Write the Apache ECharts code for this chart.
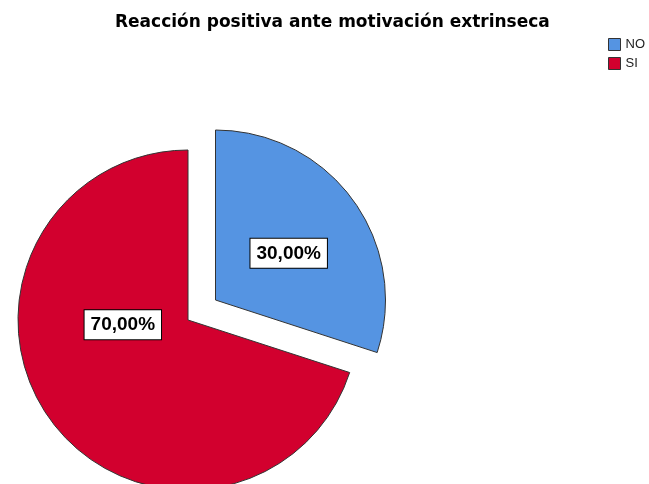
<!DOCTYPE html>
<html>
<head>
<meta charset="utf-8">
<script src="https://cdn.jsdelivr.net/npm/echarts@6/dist/echarts.min.js"></script>
<style>
  html, body { margin: 0; padding: 0; background: #fff; }
  #chart { width: 649px; height: 484px; }
</style>
</head>
<body>
<div id="chart"></div>
<script>
const titleText = 'Reacción positiva ante motivación extrinseca'
const categories = ['NO', 'SI']
const percents = [30, 70]
const colors = ['#5594e2', '#d2002e']

const chart = echarts.init(document.getElementById('chart'))

// SPSS places the labels slightly differently from the ECharts default
const labelOffsets = [[2, 5], [6, -47]]

const pieData = categories.map((name, i) => ({
  name: name,
  value: percents[i],
  selected: i === 0,
  itemStyle: { color: colors[i] },
  label: { offset: labelOffsets[i] },
  select: { label: { offset: labelOffsets[i] } }
}))

chart.setOption({
  animation: false,
  title: {
    text: titleText,
    left: 110,
    top: 9,
    textStyle: { fontFamily: 'DejaVu Sans', fontSize: 17, fontWeight: 'bold', color: '#000' }
  },
  legend: {
    orient: 'vertical',
    left: 603,
    top: 33,
    itemWidth: 12,
    itemHeight: 12,
    itemGap: 6,
    icon: 'rect',
    data: categories,
    itemStyle: { borderColor: '#333', borderWidth: 1 },
    textStyle: { fontFamily: 'Liberation Sans', fontSize: 13, color: '#222' }
  },
  series: [
    {
      type: 'pie',
      center: [188, 320],
      radius: 170,
      startAngle: 90,
      selectedMode: 'single',
      selectedOffset: 34,
      data: pieData,
      itemStyle: { borderColor: '#333', borderWidth: 1 },
      emphasis: { disabled: true },
      label: {
        show: true,
        position: 'inside',
        formatter: (p) => p.value.toFixed(2).replace('.', ',') + '%',
        fontFamily: 'Liberation Sans',
        fontSize: 19,
        fontWeight: 'bold',
        lineHeight: 21,
        color: '#000',
        backgroundColor: '#fff',
        borderColor: '#000',
        borderWidth: 1,
        padding: [4, 6]
      },
      labelLine: { show: false }
    }
  ]
})
</script>
</body>
</html>
